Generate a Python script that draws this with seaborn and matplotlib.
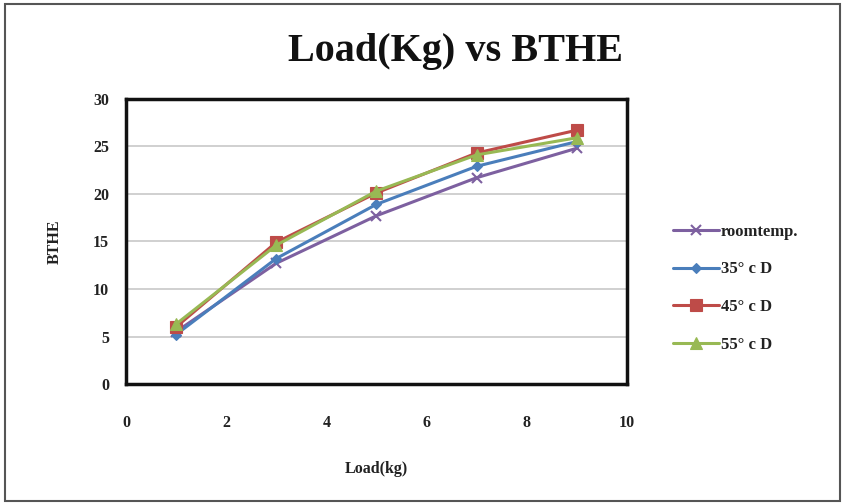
import matplotlib
matplotlib.use("Agg")
import matplotlib.pyplot as plt
from matplotlib.patches import Rectangle
import seaborn as sns
import pandas as pd

# Engine load (kg) and brake thermal efficiency for each fuel condition
load_kg = [1, 3, 5, 7, 9]
roomtemp = [5.5, 12.7, 17.7, 21.7, 24.8]
d35 = [5.2, 13.2, 18.9, 22.9, 25.5]
d45 = [6.0, 14.9, 20.1, 24.3, 26.7]
d55 = [6.3, 14.6, 20.3, 24.1, 25.9]

series_names = ["roomtemp.", "35° c D", "45° c D", "55° c D"]
series_values = [roomtemp, d35, d45, d55]
colors = ["#7D60A0", "#4A7EBB", "#BE4B48", "#98B954"]
markers = ["x", "D", "s", "^"]
marker_sizes = [7, 5, 8.5, 8.5]

x_ticks = [0, 2, 4, 6, 8, 10]
y_ticks = [0, 5, 10, 15, 20, 25, 30]

frames = []
for name, vals in zip(series_names, series_values):
    frames.append(pd.DataFrame({"Load": load_kg, "BTHE": vals, "Fuel": name}))
df = pd.concat(frames, ignore_index=True)

sns.set_theme(style="white")
plt.rcParams["font.family"] = ["Liberation Serif", "DejaVu Serif"]
plt.rcParams["font.weight"] = "bold"

fig = plt.figure(figsize=(8.45, 5.04), dpi=100)
ax = fig.add_axes([0.149, 0.238, 0.593, 0.566])

for name, col, mk, ms in zip(series_names, colors, markers, marker_sizes):
    sub = df[df["Fuel"] == name]
    sns.lineplot(data=sub, x="Load", y="BTHE", ax=ax, color=col, marker=mk,
                 markersize=ms, markeredgecolor=col,
                 markeredgewidth=1.5 if mk == "x" else 0.8,
                 linewidth=2.2, label=name)

ax.set_xlim(0, 10)
ax.set_ylim(0, 30)
ax.set_xticks(x_ticks)
ax.set_yticks(y_ticks)
ax.tick_params(axis="both", length=0, labelsize=11.5, colors="#222222")
ax.tick_params(axis="x", pad=22)
ax.tick_params(axis="y", pad=12)
for lbl in ax.get_xticklabels() + ax.get_yticklabels():
    lbl.set_fontweight("bold")
ax.yaxis.grid(True, color="#c8c8c8", linewidth=1.2)
ax.xaxis.grid(False)
ax.set_axisbelow(True)
for sp in ax.spines.values():
    sp.set_visible(True)
    sp.set_color("#111111")
    sp.set_linewidth(2.5)

ax.set_xlabel("Load(kg)", fontsize=11.5, fontweight="bold", labelpad=22, color="#222222")
ax.set_ylabel("BTHE", fontsize=11.5, fontweight="bold", labelpad=22, color="#222222")

fig.text(0.539, 0.898, "Load(Kg) vs BTHE", ha="center", va="center",
         fontsize=29, fontweight="bold", color="#111111")

leg = ax.legend(loc="center left", bbox_to_anchor=(1.078, 0.336), frameon=False,
                fontsize=12, handlelength=2.8, handletextpad=0.1,
                labelspacing=1.3, borderaxespad=0)
for t in leg.get_texts():
    t.set_fontweight("bold")
    t.set_color("#222222")

fig.patches.append(Rectangle((0.006, 0.006), 0.988, 0.986, transform=fig.transFigure,
                             fill=False, edgecolor="#555555", linewidth=1.5))

fig.savefig("out.png", dpi=100, facecolor="white")
